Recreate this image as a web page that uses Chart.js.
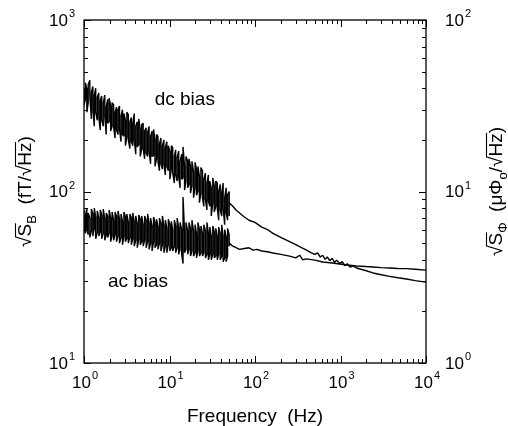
<!DOCTYPE html>
<html lang="en">
<head>
<meta charset="UTF-8">
<title>Noise spectra</title>
<script src="https://cdn.jsdelivr.net/npm/chart.js"></script>
<style>
  body { margin: 0; background: #fff; }
  #wrap { width: 508px; height: 426px; }
</style>
</head>
<body>
<div id="wrap"><canvas id="spec"></canvas></div>
<script>
// noisy low-frequency part (Hz), shared by both traces
const noiseFreq = [1.00, 1.04, 1.08, 1.12, 1.17, 1.22, 1.27, 1.32, 1.37, 1.43,
  1.49, 1.55, 1.61, 1.68, 1.75, 1.82, 1.89, 1.97, 2.05, 2.13,
  2.22, 2.31, 2.40, 2.50, 2.60, 2.71, 2.82, 2.93, 3.05, 3.17,
  3.30, 3.44, 3.58, 3.72, 3.87, 4.03, 4.20, 4.37, 4.55, 4.73,
  4.92, 5.12, 5.33, 5.55, 5.77, 6.01, 6.25, 6.51, 6.77, 7.05,
  7.33, 7.63, 7.94, 8.26, 8.60, 8.95, 9.31, 9.69, 10.1, 10.5,
  10.9, 11.4, 11.8, 12.3, 12.8, 13.3, 13.9, 14.4, 15.0, 15.6,
  16.3, 16.9, 17.6, 18.3, 19.1, 19.9, 20.7, 21.5, 22.4, 23.3,
  24.3, 25.2, 26.3, 27.4, 28.5, 29.6, 30.8, 32.1, 33.4, 34.8,
  36.2, 37.6, 39.2, 40.8, 42.4, 44.2, 46.0, 47.8, 49.8];

// sqrt(S_B) in fT/sqrt(Hz): upper and lower edge of the noise band per bin
const dcHi = [400, 430, 395, 420, 445, 380, 410, 365, 400, 355,
  375, 340, 360, 330, 365, 310, 345, 350, 315, 330,
  320, 290, 310, 300, 315, 275, 300, 285, 260, 290,
  280, 255, 270, 250, 285, 240, 255, 265, 230, 245,
  250, 225, 235, 220, 240, 210, 225, 230, 200, 215,
  210, 190, 205, 185, 200, 180, 195, 185, 170, 185,
  180, 160, 175, 158, 172, 150, 165, 182, 140, 160,
  150, 155, 140, 150, 130, 148, 135, 140, 122, 138,
  132, 118, 128, 112, 125, 115, 105, 120, 108, 115,
  112, 100, 110, 98, 112, 92, 105, 96, 100];
const dcLo = [320, 345, 290, 330, 360, 265, 300, 240, 290, 260,
  270, 228, 262, 240, 275, 215, 250, 255, 225, 240,
  238, 205, 228, 215, 230, 195, 215, 210, 185, 208,
  200, 178, 195, 185, 200, 165, 182, 188, 160, 178,
  178, 155, 168, 160, 172, 145, 160, 162, 140, 155,
  150, 132, 145, 135, 145, 125, 140, 132, 118, 135,
  128, 112, 125, 115, 122, 105, 118, 120, 102, 115,
  105, 110, 98, 108, 92, 105, 95, 100, 86, 98,
  92, 82, 90, 78, 88, 82, 72, 86, 76, 82,
  80, 68, 78, 72, 80, 64, 75, 68, 72];

const acHi = [78, 72, 80, 75, 70, 79, 74, 80, 71, 77,
  70, 78, 73, 79, 69, 75, 72, 78, 70, 76,
  68, 76, 72, 77, 69, 74, 67, 76, 71, 74,
  66, 74, 70, 75, 67, 72, 65, 73, 69, 72,
  64, 72, 68, 74, 65, 70, 63, 71, 66, 69,
  62, 70, 65, 72, 63, 68, 61, 69, 64, 67,
  60, 68, 63, 70, 61, 66, 60, 93, 58, 66,
  59, 66, 61, 68, 59, 64, 57, 66, 60, 63,
  57, 64, 59, 66, 57, 62, 55, 63, 58, 61,
  55, 62, 57, 64, 55, 60, 54, 61, 56];
const acLo = [62, 57, 60, 56, 54, 59, 55, 61, 53, 58,
  55, 58, 53, 57, 52, 56, 54, 57, 51, 55,
  52, 56, 51, 55, 50, 54, 49, 55, 51, 53,
  50, 54, 49, 53, 48, 52, 47, 53, 49, 51,
  48, 52, 47, 51, 46, 50, 45, 51, 47, 49,
  46, 50, 45, 49, 44, 48, 44, 49, 45, 47,
  45, 48, 44, 47, 43, 46, 43, 38, 44, 46,
  43, 46, 42, 45, 42, 44, 41, 45, 42, 44,
  42, 44, 41, 43, 40, 43, 40, 43, 41, 42,
  40, 43, 40, 42, 39, 41, 39, 42, 48];

// smoother high-frequency tails
const dcTailFreq = [50, 55, 60, 66, 75, 85, 100, 120, 140, 162, 200, 254, 300, 350, 400, 450,
  500, 540, 580, 620, 660, 700, 750, 800, 850, 900, 980, 1050, 1120, 1200, 1300, 1400, 1540,
  2000, 2400, 3000, 3750, 4700, 5900, 7500, 10000];
const dcTail = [86, 82, 78, 75, 71, 68, 66, 62, 60, 57, 54, 51, 49, 47, 45.5, 44,
  43, 43.8, 41.5, 42.5, 40.2, 41.5, 39.5, 40.8, 38.6, 39.8, 38, 39, 37, 37.9, 36.2, 36.8, 35.8,
  34.5, 33.5, 32.7, 32, 31.4, 30.9, 30.2, 29.6];

const acTailFreq = [50, 55, 60, 66, 75, 85, 95, 105, 120, 140, 162, 200, 254, 300, 333, 360,
  400, 500, 620, 800, 980, 1200, 1540, 2000, 2400, 3000, 3750, 4700, 5900, 7500, 10000];
const acTail = [50, 48, 47, 46, 46.5, 47, 45.5, 46, 45, 44.5, 43.8, 43, 42, 41, 42.5, 40,
  40.5, 39.8, 38.8, 38.3, 37.8, 37.3, 36.8, 36.5, 36.3, 36, 35.8, 35.6, 35.5, 35.2, 34.8];

const xTicks = [1, 10, 100, 1000, 10000];
const leftTicks = [10, 100, 1000];
const rightTicks = [1, 10, 100];

// text labels anchored in data space: [text, freq, value]
const notes = [['dc bias', 15.1, 319], ['ac bias', 4.28, 27.8]];

const FONT = '"Liberation Sans", Arial, Helvetica, sans-serif';

// band: walk each bin's upper and lower edge, alternating order
function band(fs, hi, lo) {
  const out = [];
  fs.forEach((f, i) => {
    if (i % 2 === 0) out.push({ x: f, y: hi[i] }, { x: f, y: lo[i] });
    else out.push({ x: f, y: lo[i] }, { x: f, y: hi[i] });
  });
  return out;
}

function pts(fs, vs) {
  return fs.map((f, i) => ({ x: f, y: vs[i] }));
}

function minors(decades) {
  const out = [];
  for (let i = 0; i < decades.length - 1; i++) {
    for (let k = 2; k <= 9; k++) out.push(decades[i] * k);
  }
  return out;
}

function drawPow(ctx, v, x, y, align) {
  const e = String(Math.round(Math.log10(v)));
  ctx.font = '17px ' + FONT;
  const w1 = ctx.measureText('10').width;
  ctx.font = '11px ' + FONT;
  const w2 = ctx.measureText(e).width + 1;
  let x0 = x;
  if (align === 'center') x0 = x - (w1 + w2) / 2;
  if (align === 'right') x0 = x - w1 - w2;
  ctx.textAlign = 'left';
  ctx.textBaseline = 'middle';
  ctx.font = '17px ' + FONT;
  ctx.fillText('10', x0, y);
  ctx.font = '11px ' + FONT;
  ctx.fillText(e, x0 + w1 + 1, y - 7);
}

// rotated axis title made of pieces: [text, small?, overline?]
function drawTitle(ctx, parts, cx, cy) {
  const big = '19px ' + FONT, small = '13px ' + FONT;
  let total = 0;
  parts.forEach(p => { ctx.font = p[1] ? small : big; total += ctx.measureText(p[0]).width; });
  ctx.save();
  ctx.translate(cx, cy);
  ctx.rotate(-Math.PI / 2);
  ctx.textAlign = 'left';
  ctx.textBaseline = 'alphabetic';
  let x = -total / 2;
  const base = 7;
  parts.forEach(p => {
    ctx.font = p[1] ? small : big;
    const w = ctx.measureText(p[0]).width;
    ctx.fillText(p[0], x, p[1] ? base + 5 : base);
    if (p[2]) {
      ctx.lineWidth = 1.1;
      ctx.beginPath();
      ctx.moveTo(x - 1, base - 15.5);
      ctx.lineTo(x + w + 0.5, base - 15.5);
      ctx.stroke();
    }
    x += w;
  });
  ctx.restore();
}

const frame = {
  id: 'frame',
  afterDraw(chart) {
    const { ctx, chartArea: a } = chart;
    const { x, y, y2 } = chart.scales;
    ctx.save();
    ctx.strokeStyle = '#000';
    ctx.fillStyle = '#000';
    ctx.lineWidth = 1.3;
    ctx.strokeRect(a.left, a.top, a.right - a.left, a.bottom - a.top);

    ctx.lineWidth = 1;
    ctx.beginPath();
    const tick = (vals, len) => {
      vals.forEach(v => {
        const px = Math.round(x.getPixelForValue(v)) + 0.5;
        ctx.moveTo(px, a.bottom); ctx.lineTo(px, a.bottom - len);
        ctx.moveTo(px, a.top); ctx.lineTo(px, a.top + len);
      });
    };
    tick(xTicks, 7);
    tick(minors(xTicks), 4);
    const ytick = (scale, vals, len, side) => {
      vals.forEach(v => {
        const py = Math.round(scale.getPixelForValue(v)) + 0.5;
        if (side === 'l') { ctx.moveTo(a.left, py); ctx.lineTo(a.left + len, py); }
        else { ctx.moveTo(a.right, py); ctx.lineTo(a.right - len, py); }
      });
    };
    ytick(y, leftTicks, 7, 'l');
    ytick(y, minors(leftTicks), 4, 'l');
    ytick(y2, rightTicks, 7, 'r');
    ytick(y2, minors(rightTicks), 4, 'r');
    ctx.stroke();

    xTicks.forEach(v => drawPow(ctx, v, x.getPixelForValue(v) + 1, a.bottom + 20, 'center'));
    leftTicks.forEach(v => drawPow(ctx, v, a.left - 9, y.getPixelForValue(v) + 1, 'right'));
    rightTicks.forEach(v => drawPow(ctx, v, a.right + 19, y2.getPixelForValue(v) + 1, 'left'));

    ctx.font = '19px ' + FONT;
    ctx.textAlign = 'center';
    ctx.textBaseline = 'alphabetic';
    ctx.fillText('Frequency  (Hz)', (a.left + a.right) / 2, a.bottom + 59);

    notes.forEach(n => ctx.fillText(n[0], x.getPixelForValue(n[1]), y.getPixelForValue(n[2])));

    const mid = (a.top + a.bottom) / 2;
    drawTitle(ctx, [['\u221A'], ['S', false, true], ['B', true], ['  (fT/'], ['\u221A'], ['Hz', false, true], [')']], 24, mid);
    drawTitle(ctx, [['\u221A'], ['S', false, true], ['\u03A6', true], ['  (\u03BC\u03A6'], ['o', true], ['/'], ['\u221A'], ['Hz', false, true], [')']], 495, mid);
    ctx.restore();
  }
};

const hidden = {
  grid: { display: false },
  border: { display: false },
  ticks: { display: false }
};

new Chart(document.getElementById('spec'), {
  type: 'line',
  data: {
    datasets: [
      {
        label: 'dc bias',
        data: band(noiseFreq, dcHi, dcLo).concat(pts(dcTailFreq, dcTail)),
        borderColor: '#000',
        borderWidth: 1.4,
        borderJoinStyle: 'bevel',
        pointRadius: 0,
        yAxisID: 'y'
      },
      {
        label: 'ac bias',
        data: band(noiseFreq, acHi, acLo).concat(pts(acTailFreq, acTail)),
        borderColor: '#000',
        borderWidth: 1.4,
        borderJoinStyle: 'bevel',
        pointRadius: 0,
        yAxisID: 'y'
      }
    ]
  },
  options: {
    responsive: true,
    maintainAspectRatio: false,
    animation: false,
    layout: { padding: { top: 20, left: 0, right: 0, bottom: 0 } },
    plugins: { legend: { display: false }, tooltip: { enabled: false } },
    scales: {
      x: { type: 'logarithmic', min: 1, max: 10000, position: 'bottom', ...hidden,
           afterFit: s => { s.height = 63; } },
      y: { type: 'logarithmic', min: 10, max: 1000, position: 'left', ...hidden,
           afterFit: s => { s.width = 84; } },
      y2: { type: 'logarithmic', min: 1, max: 100, position: 'right', ...hidden,
            afterFit: s => { s.width = 82; } }
    }
  },
  plugins: [frame]
});
</script>
</body>
</html>
